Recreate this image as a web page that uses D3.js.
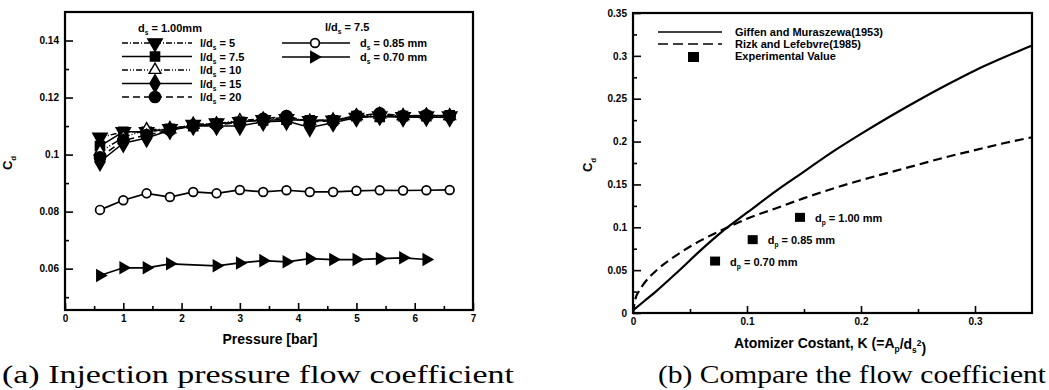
<!DOCTYPE html>
<html>
<head>
<meta charset="utf-8">
<script src="https://cdn.jsdelivr.net/npm/d3@7"></script>
<style>
  body { margin: 0; background: #fff; }
  svg text { font-family: "Liberation Sans", Arial, sans-serif; font-weight: bold; fill: #000; }
  .cap { font-family: "Liberation Serif", "Times New Roman", serif; font-weight: normal; }
</style>
</head>
<body>
<svg id="chart" width="1049" height="390"></svg>
<script>
// ---- data: (a) injection pressure ----
var pressure = [0.6, 1.0, 1.4, 1.8, 2.2, 2.6, 3.0, 3.4, 3.8, 4.2, 4.6, 5.0, 5.4, 5.8, 6.2, 6.6];
var ld5  = [0.106, 0.108, 0.108, 0.109, 0.1105, 0.111, 0.1115, 0.1122, 0.1125, 0.1118, 0.112, 0.113, 0.1135, 0.1132, 0.1135, 0.1135];
var ld75 = [0.103, 0.108, 0.108, 0.109, 0.110, 0.1108, 0.1115, 0.112, 0.1122, 0.112, 0.112, 0.1135, 0.1132, 0.1135, 0.1135, 0.1138];
var ld10 = [0.101, 0.106, 0.1088, 0.1088, 0.1105, 0.1108, 0.112, 0.1125, 0.113, 0.1118, 0.1122, 0.1135, 0.114, 0.1135, 0.1138, 0.1135];
var ld15 = [0.0975, 0.104, 0.1058, 0.1085, 0.110, 0.110, 0.110, 0.1115, 0.1118, 0.1095, 0.1112, 0.113, 0.1135, 0.113, 0.1132, 0.113];
var ld20 = [0.099, 0.105, 0.1068, 0.1086, 0.1102, 0.1105, 0.1112, 0.1125, 0.1135, 0.1115, 0.1118, 0.1135, 0.1145, 0.1135, 0.1138, 0.1135];
var d085 = [0.0806, 0.084, 0.0864, 0.0851, 0.0869, 0.0864, 0.0876, 0.0869, 0.0875, 0.0869, 0.0869, 0.0873, 0.0875, 0.0874, 0.0875, 0.0876];
var pressure70 = [0.6, 1.0, 1.4, 1.8, 2.6, 3.0, 3.4, 3.8, 4.2, 4.6, 5.0, 5.4, 5.8, 6.2];
var d070 = [0.0576, 0.0603, 0.0603, 0.0617, 0.061, 0.062, 0.0628, 0.0624, 0.0635, 0.0632, 0.0632, 0.0635, 0.0638, 0.0632];
var ldLabels = ["5", "7.5", "10", "15", "20"];
var xTicksA = [0, 1, 2, 3, 4, 5, 6, 7];
var yTicksA = [0.06, 0.08, 0.1, 0.12, 0.14];

// ---- data: (b) flow coefficient vs atomizer constant ----
var giffenK = [0, 0.01, 0.02, 0.04, 0.06, 0.08, 0.1, 0.125, 0.15, 0.175, 0.2, 0.225, 0.25, 0.275, 0.3, 0.325, 0.35];
var giffenC = [0.003, 0.014, 0.025, 0.049, 0.074, 0.097, 0.117, 0.142, 0.165, 0.188, 0.209, 0.229, 0.248, 0.266, 0.283, 0.298, 0.312];
var rizkK = [0, 0.002, 0.005, 0.01, 0.02, 0.04, 0.06, 0.08, 0.1, 0.125, 0.15, 0.175, 0.2, 0.225, 0.25, 0.275, 0.3, 0.325, 0.35];
var rizkC = [0, 0.016, 0.025, 0.035, 0.049, 0.069, 0.085, 0.098, 0.110, 0.122, 0.134, 0.145, 0.155, 0.164, 0.173, 0.182, 0.190, 0.198, 0.205];
var expK = [0.1465, 0.105, 0.072];
var expC = [0.111, 0.085, 0.060];
var expLabels = ["1.00 mm", "0.85 mm", "0.70 mm"];
var xTicksB = [0, 0.1, 0.2, 0.3];
var yTicksB = [0, 0.05, 0.1, 0.15, 0.2, 0.25, 0.3, 0.35];

var svg = d3.select("#chart");

// text with subscripts: parts = [[str, isSub, dy], ...]
function richText(g, x, y, parts, size, anchor) {
    var t = g.append("text").attr("x", x).attr("y", y)
        .style("font-size", size + "px")
        .attr("text-anchor", anchor || "start");
    parts.forEach(function (p) {
        var sp = t.append("tspan").text(p[0]);
        if (p[1] === 1) sp.attr("dy", size * 0.3).style("font-size", (size * 0.6) + "px");
        if (p[1] === 2) sp.attr("dy", -size * 0.4).style("font-size", (size * 0.6) + "px");
        if (p[2]) sp.attr("dy", p[2]);
    });
    return t;
}

function frame(g, x, y) {
    var r = x.range(), d = y.range();
    g.append("rect")
        .attr("x", r[0]).attr("y", d[1])
        .attr("width", r[1] - r[0]).attr("height", d[0] - d[1])
        .attr("fill", "none").attr("stroke", "#000").attr("stroke-width", 2.2);
}

function axes(g, x, y, xt, xm, yt, ym, xf, yf) {
    var h = y.range()[0];
    var x0 = x.range()[0];
    g.append("g").attr("transform", "translate(0," + h + ")")
        .call(d3.axisBottom(x).tickValues(xt).tickSize(-7).tickPadding(5).tickFormat(xf));
    g.append("g").attr("transform", "translate(0," + h + ")")
        .call(d3.axisBottom(x).tickValues(xm).tickSize(-4).tickFormat(""));
    g.append("g").attr("transform", "translate(" + x0 + ",0)")
        .call(d3.axisLeft(y).tickValues(yt).tickSize(-8).tickPadding(6).tickFormat(yf));
    g.append("g").attr("transform", "translate(" + x0 + ",0)")
        .call(d3.axisLeft(y).tickValues(ym).tickSize(-4).tickFormat(""));
    g.selectAll(".domain").remove();
    g.selectAll(".tick line").attr("stroke", "#000").attr("stroke-width", 1.6);
    g.selectAll(".tick text").style("font-size", "10px").style("font-family", "Liberation Sans, Arial").style("font-weight", "bold");
}

// ================= (a) =================
var xA = d3.scaleLinear().domain([0, 7]).range([65, 473]);
var yA = d3.scaleLinear().domain([0.0455, 0.15]).range([310, 12]);
var gA = svg.append("g");

axes(gA, xA, yA, xTicksA, d3.range(0.5, 7, 1), yTicksA, [0.05, 0.07, 0.09, 0.11, 0.13],
    d3.format("d"), function (d) { return d === 0.1 ? "0.1" : d3.format(".2f")(d); });

var seriesA = [
    { v: ld5,  dash: "6,2,1,2", sym: d3.symbol().type(d3.symbolTriangle).size(90), rot: 180, fill: "#000" },
    { v: ld75, dash: null, sym: d3.symbol().type(d3.symbolSquare).size(85), rot: 0, fill: "#000" },
    { v: ld10, dash: "6,2,1,2,1,2", sym: d3.symbol().type(d3.symbolTriangle).size(60), rot: 0, fill: "#fff" },
    { v: ld15, dash: null, sym: d3.symbol().type(d3.symbolDiamond).size(90), rot: 0, fill: "#000" },
    { v: ld20, dash: "7,4", sym: d3.symbol().type(d3.symbolCircle).size(100), rot: 0, fill: "#000" }
];

var lineA = d3.line().x(function (d) { return xA(d[0]); }).y(function (d) { return yA(d[1]); });

seriesA.forEach(function (s) {
    var pts = pressure.map(function (p, i) { return [p, s.v[i]]; });
    gA.append("path").attr("d", lineA(pts)).attr("fill", "none")
        .attr("stroke", "#000").attr("stroke-width", 1.5)
        .attr("stroke-dasharray", s.dash);
});
seriesA.forEach(function (s) {
    var pts = pressure.map(function (p, i) { return [p, s.v[i]]; });
    gA.selectAll(null).data(pts).enter().append("path")
        .attr("d", s.sym())
        .attr("transform", function (d) { return "translate(" + xA(d[0]) + "," + yA(d[1]) + ") rotate(" + s.rot + ")"; })
        .attr("fill", s.fill).attr("stroke", "#000").attr("stroke-width", 1.4);
});

// d = 0.85 mm open circles
var pts85 = pressure.map(function (p, i) { return [p, d085[i]]; });
gA.append("path").attr("d", lineA(pts85)).attr("fill", "none").attr("stroke", "#000").attr("stroke-width", 1.7);
gA.selectAll(null).data(pts85).enter().append("circle")
    .attr("cx", function (d) { return xA(d[0]); }).attr("cy", function (d) { return yA(d[1]); })
    .attr("r", 4.4).attr("fill", "#fff").attr("stroke", "#000").attr("stroke-width", 1.7);

// d = 0.70 mm right-pointing triangles
var pts70 = pressure70.map(function (p, i) { return [p, d070[i]]; });
var triR = d3.symbol().type(d3.symbolTriangle).size(80);
gA.append("path").attr("d", lineA(pts70)).attr("fill", "none").attr("stroke", "#000").attr("stroke-width", 1.7);
gA.selectAll(null).data(pts70).enter().append("path")
    .attr("d", triR())
    .attr("transform", function (d) { return "translate(" + xA(d[0]) + "," + yA(d[1]) + ") rotate(90)"; })
    .attr("fill", "#000");

frame(gA, xA, yA);

// legend (a)
richText(gA, 138, 32, [["d"], ["s", 1], [" = 1.00mm", 0, -3]], 11);
seriesA.forEach(function (s, i) {
    var ly = 43 + i * 13.5;
    gA.append("line").attr("x1", 122).attr("x2", 192).attr("y1", ly).attr("y2", ly)
        .attr("stroke", "#000").attr("stroke-width", 1.5).attr("stroke-dasharray", s.dash);
    gA.append("path").attr("d", s.sym())
        .attr("transform", "translate(155," + ly + ") rotate(" + s.rot + ")")
        .attr("fill", s.fill).attr("stroke", "#000").attr("stroke-width", 1.4);
    richText(gA, 200, ly + 4, [["l/d"], ["s", 1], [" = " + ldLabels[i], 0, -3]], 11);
});
richText(gA, 325, 31, [["l/d"], ["s", 1], [" = 7.5", 0, -3]], 11);
[0, 1].forEach(function (i) {
    var ly = 43 + i * 14;
    gA.append("line").attr("x1", 282).attr("x2", 350).attr("y1", ly).attr("y2", ly)
        .attr("stroke", "#000").attr("stroke-width", 1.7);
    if (i === 0) {
        gA.append("circle").attr("cx", 315).attr("cy", ly).attr("r", 4.4)
            .attr("fill", "#fff").attr("stroke", "#000").attr("stroke-width", 1.7);
    } else {
        gA.append("path").attr("d", triR()).attr("transform", "translate(314," + ly + ") rotate(90)").attr("fill", "#000");
    }
    richText(gA, 360, ly + 4, [["d"], ["s", 1], [" = " + (i === 0 ? "0.85 mm" : "0.70 mm"), 0, -3]], 11);
});

// axis titles (a)
gA.append("text").attr("x", 270).attr("y", 344).attr("text-anchor", "middle")
    .style("font-size", "14px").text("Pressure [bar]");
var cdA = gA.append("g").attr("transform", "translate(12,163) rotate(-90)");
richText(cdA, 0, 0, [["C"], ["d", 1]], 13, "middle");

// ================= (b) =================
var xB = d3.scaleLinear().domain([0, 0.35]).range([633, 1032]);
var yB = d3.scaleLinear().domain([0, 0.35]).range([313, 13]);
var gB = svg.append("g");

axes(gB, xB, yB, xTicksB, [0.05, 0.15, 0.25], yTicksB, d3.range(0.025, 0.35, 0.05),
    function (d) { return d === 0 ? "0" : d3.format(".1f")(d); },
    function (d) { return d === 0 ? "0" : String(+d.toFixed(2)); });

var lineB = d3.line().x(function (d) { return xB(d[0]); }).y(function (d) { return yB(d[1]); }).curve(d3.curveMonotoneX);
gB.append("path").attr("d", lineB(giffenK.map(function (k, i) { return [k, giffenC[i]]; })))
    .attr("fill", "none").attr("stroke", "#000").attr("stroke-width", 2.2);
gB.append("path").attr("d", lineB(rizkK.map(function (k, i) { return [k, rizkC[i]]; })))
    .attr("fill", "none").attr("stroke", "#000").attr("stroke-width", 2.2).attr("stroke-dasharray", "9,5");

expK.forEach(function (k, i) {
    gB.append("rect").attr("x", xB(k) - 5).attr("y", yB(expC[i]) - 5)
        .attr("width", 10).attr("height", 9).attr("fill", "#000");
    richText(gB, xB(k) + 15, yB(expC[i]) + 4, [["d"], ["p", 1], [" = " + expLabels[i], 0, -3]], 11);
});

frame(gB, xB, yB);

// legend (b)
gB.append("line").attr("x1", 658).attr("x2", 722).attr("y1", 32).attr("y2", 32).attr("stroke", "#000").attr("stroke-width", 1.7);
gB.append("line").attr("x1", 658).attr("x2", 722).attr("y1", 44).attr("y2", 44).attr("stroke", "#000").attr("stroke-width", 1.7).attr("stroke-dasharray", "10,5");
gB.append("rect").attr("x", 688).attr("y", 52).attr("width", 11).attr("height", 10).attr("fill", "#000");
var legB = ["Giffen and Muraszewa(1953)", "Rizk and Lefebvre(1985)", "Experimental Value"];
legB.forEach(function (t, i) {
    gB.append("text").attr("x", 735).attr("y", 36 + i * 12).style("font-size", "11px").text(t);
});

// axis titles (b)
richText(gB, 830, 348, [["Atomizer Costant, K (=A"], ["p", 1], ["/d", 0, -3], ["s", 1], ["2", 2, -7], [")", 0, 7]], 14, "middle");
var cdB = gB.append("g").attr("transform", "translate(592,165) rotate(-90)");
richText(cdB, 0, 0, [["C"], ["d", 1]], 13, "middle");

// captions
svg.append("text").attr("class", "cap").attr("x", 2).attr("y", 383)
    .attr("textLength", 512).attr("lengthAdjust", "spacingAndGlyphs")
    .style("font-size", "26px").text("(a) Injection pressure flow coefficient");
svg.append("text").attr("class", "cap").attr("x", 658).attr("y", 383)
    .attr("textLength", 388).attr("lengthAdjust", "spacingAndGlyphs")
    .style("font-size", "26px").text("(b) Compare the flow coefficient");
</script>
</body>
</html>
